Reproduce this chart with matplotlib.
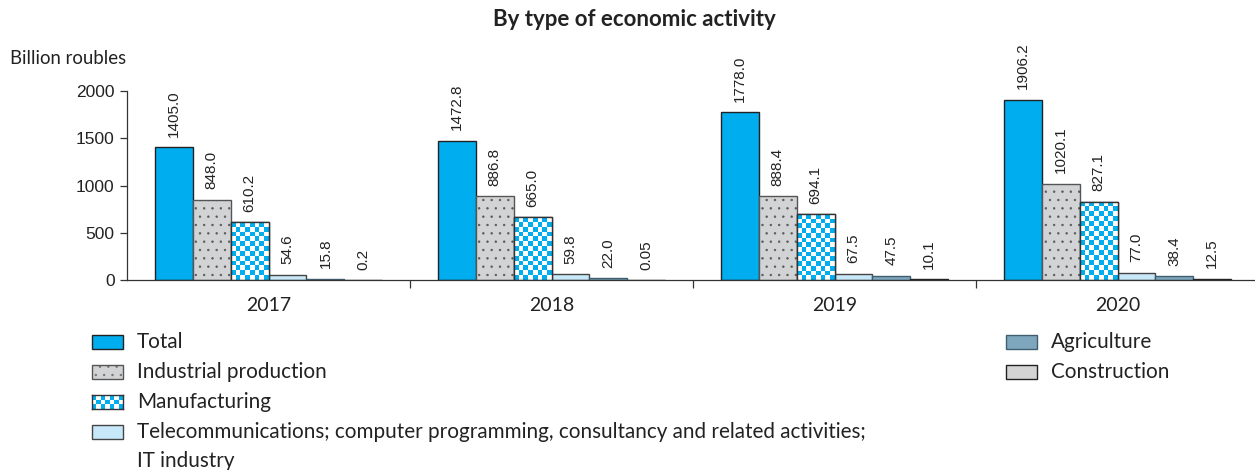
import matplotlib.pyplot as plt
import numpy as np
from matplotlib.patches import Rectangle

# Data (billion roubles)
years = ["2017", "2018", "2019", "2020"]
series_names = [
    "Total",
    "Industrial production",
    "Manufacturing",
    "Telecommunications; computer programming, consultancy and related activities;\nIT industry",
    "Agriculture",
    "Construction",
]
total = [1405.0, 1472.8, 1778.0, 1906.2]
industrial = [848.0, 886.8, 888.4, 1020.1]
manufacturing = [610.2, 665.0, 694.1, 827.1]
telecom = [54.6, 59.8, 67.5, 77.0]
agriculture = [15.8, 22.0, 47.5, 38.4]
construction = [0.2, 0.05, 10.1, 12.5]
value_labels = [
    ["1405.0", "1472.8", "1778.0", "1906.2"],
    ["848.0", "886.8", "888.4", "1020.1"],
    ["610.2", "665.0", "694.1", "827.1"],
    ["54.6", "59.8", "67.5", "77.0"],
    ["15.8", "22.0", "47.5", "38.4"],
    ["0.2", "0.05", "10.1", "12.5"],
]
values = [total, industrial, manufacturing, telecom, agriculture, construction]

BLUE = "#00aeef"
faces = [BLUE, "#d2d3d5", "white", "#c7e8f8", "#7ea7bd", "#d4d4d4"]
edges = ["#222222", "#555555", "#333333", "#444444", "#3f5f70", "#222222"]
hatches = [None, "..", None, None, None, None]

legend_font = "Lato"
num_font = "Liberation Sans"
plt.rcParams["hatch.linewidth"] = 0.5

fig = plt.figure(figsize=(12.55, 4.70), dpi=100)
ax = fig.add_axes([127 / 1255, 190 / 470, 1132 / 1255, 189 / 470])

x = np.arange(len(years))
w = 0.134


def checker(nx, ny):
    a = (np.add.outer(np.arange(ny), np.arange(nx)) % 2).astype(float)
    img = np.zeros((ny, nx, 3))
    blue = np.array([0, 174, 239]) / 255
    img[a == 0] = blue
    img[a == 1] = [1, 1, 1]
    return img


for i, (vals, labels) in enumerate(zip(values, value_labels)):
    pos = x + (i - 2.5) * w
    bars = ax.bar(pos, vals, width=w, color=faces[i], edgecolor=edges[i],
                  linewidth=1.0, hatch=hatches[i], zorder=2)
    if i == 1:
        for b in bars:
            b._hatch_color = (0.35, 0.35, 0.35, 1)
    if i == 2:
        # checkerboard fill, clipped to each bar
        for b in bars:
            nx = 8
            ny = max(1, int(round(b.get_height() / 2000 * 189 / 4.75)))
            im = ax.imshow(checker(nx, ny), extent=(b.get_x(), b.get_x() + w, 0, b.get_height()),
                           aspect="auto", interpolation="nearest", zorder=2.5)
            im.set_clip_path(b)
            ax.add_patch(Rectangle((b.get_x(), 0), w, b.get_height(), fill=False,
                                   edgecolor=edges[i], linewidth=1.0, zorder=3))
    for p, v, t in zip(pos, vals, labels):
        ax.annotate(t, (p, v), xytext=(0, 7.5), textcoords="offset points",
                    rotation=90, ha="center", va="bottom", fontsize=11,
                    family=num_font, color="#222222", clip_on=False)

ax.set_xlim(-0.5, 3.5)
ax.set_ylim(0, 2000)
ax.spines["top"].set_visible(False)
ax.spines["right"].set_visible(False)
for s in ("left", "bottom"):
    ax.spines[s].set_color("#333333")
    ax.spines[s].set_linewidth(0.9)
ax.set_yticks([0, 500, 1000, 1500, 2000])
ax.tick_params(axis="y", direction="out", length=5, width=0.9, colors="#333333",
               labelsize=12.5, labelcolor="#222222", pad=4)
ax.set_xticks(x)
ax.set_xticklabels(years)
ax.set_xticks([0.5, 1.5, 2.5], minor=True)
ax.tick_params(axis="x", which="major", length=0, labelsize=14, labelcolor="#222222", pad=12)
ax.tick_params(axis="x", which="minor", direction="out", length=6, width=0.9, colors="#333333")
for lab in ax.get_yticklabels():
    lab.set_family(num_font)
for lab in ax.get_xticklabels():
    lab.set_family(legend_font)

fig.text(634 / 1255, 1 - 20 / 470, "By type of economic activity", ha="center", va="center",
         fontsize=16, fontweight="bold", family=legend_font, color="#222222")
fig.text(10 / 1255, 1 - 58 / 470, "Billion roubles", ha="left", va="center",
         fontsize=13.4, family=legend_font, color="#222222")

# Legend drawn manually (two columns)
legend_pos = [(92, 342), (92, 372), (92, 402), (92, 432), (1006, 342), (1006, 372)]
pw, ph = 31, 14
for i, (px, py) in enumerate(legend_pos):
    fx, fy = px / 1255, 1 - (py + ph / 2) / 470
    fw, fh = pw / 1255, ph / 470
    if i == 2:
        lax = fig.add_axes([fx, fy, fw, fh])
        lax.imshow(checker(7, 3), aspect="auto", interpolation="nearest")
        lax.set_xticks([])
        lax.set_yticks([])
        for s in lax.spines.values():
            s.set_color(edges[i])
            s.set_linewidth(1.0)
    else:
        r = Rectangle((fx, fy), fw, fh, transform=fig.transFigure, facecolor=faces[i],
                      edgecolor=edges[i], linewidth=1.0, hatch=hatches[i])
        if i == 1:
            r._hatch_color = (0.45, 0.45, 0.45, 1)
        fig.add_artist(r)
    for k, line in enumerate(series_names[i].split("\n")):
        fig.text((px + 45) / 1255, 1 - (py + 6 + 29 * k) / 470, line, ha="left",
                 va="baseline", fontsize=14.9, family=legend_font, color="#222222")

fig.savefig("out.png", dpi=100)
